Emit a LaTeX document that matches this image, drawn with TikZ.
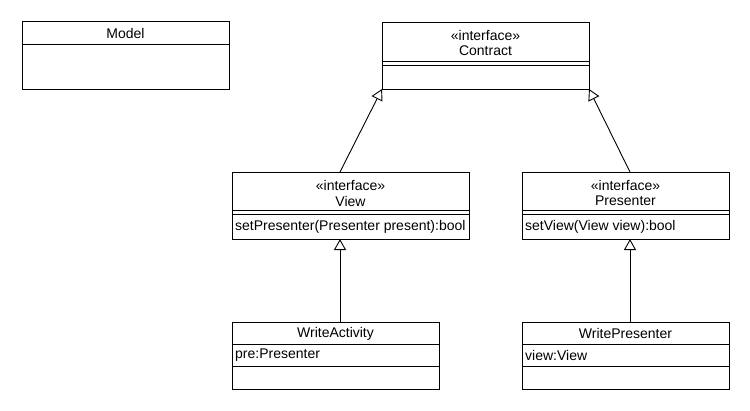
\documentclass[tikz,border=0pt]{standalone}
\usepackage{fontspec}
\setmainfont{Liberation Sans}
\usetikzlibrary{arrows.meta,calc}
\begin{document}
\begin{tikzpicture}[x=1pt,y=-1pt,
  umlbox/.style={draw,line width=1pt,rectangle,anchor=north west,inner sep=0pt,outer sep=0pt},
  lbl/.style={inner sep=0pt,font=\fontsize{14}{16}\selectfont},
  rowline/.style={line width=1pt},
  gen/.style={line width=0.9pt,-{Triangle[open,length=11pt,width=12pt,line width=0.9pt]}}]
\useasboundingbox (0,0) rectangle (750,410);
\fill[white] (0,0) rectangle (750,410);
% Model
\node[umlbox,minimum width=207pt,minimum height=68pt] (model) at (22,21) {};
\draw[rowline] ($(model.north west)+(0,23)$) -- ($(model.north east)+(0,23)$);
\node[lbl] (modelname) at ($(model.north)+(0,12.5)$) {Model};
% Contract
\node[umlbox,minimum width=207pt,minimum height=67pt] (contract) at (382,22) {};
\draw[rowline] ($(contract.north west)+(0,39)$) -- ($(contract.north east)+(0,39)$);
\draw[rowline] ($(contract.north west)+(0,43)$) -- ($(contract.north east)+(0,43)$);
\node[lbl] (contractst) at ($(contract.north)+(0,13)$) {«interface»};
\node[lbl] (contractname) at ($(contract.north)+(0,29)$) {Contract};
% View
\node[umlbox,minimum width=237pt,minimum height=67pt] (view) at (232,172) {};
\draw[rowline] ($(view.north west)+(0,38)$) -- ($(view.north east)+(0,38)$);
\draw[rowline] ($(view.north west)+(0,42)$) -- ($(view.north east)+(0,42)$);
\node[lbl] (viewst) at ($(view.north)+(0,13)$) {«interface»};
\node[lbl] (viewname) at ($(view.north)+(0,29)$) {View};
\node[lbl,anchor=west] (viewop) at ($(view.north west)+(3,55)$) {setPresenter(Presenter present):bool};
% Presenter
\node[umlbox,minimum width=207pt,minimum height=67pt] (presenter) at (522,172) {};
\draw[rowline] ($(presenter.north west)+(0,38)$) -- ($(presenter.north east)+(0,38)$);
\draw[rowline] ($(presenter.north west)+(0,42)$) -- ($(presenter.north east)+(0,42)$);
\node[lbl] (presst) at ($(presenter.north)+(0,13)$) {«interface»};
\node[lbl] (presname) at ($(presenter.north)+(0,29)$) {Presenter};
\node[lbl,anchor=west] (presop) at ($(presenter.north west)+(3,55)$) {setView(View view):bool};
% WriteActivity
\node[umlbox,minimum width=207pt,minimum height=67pt] (wact) at (232,322) {};
\draw[rowline] ($(wact.north west)+(0,22)$) -- ($(wact.north east)+(0,22)$);
\draw[rowline] ($(wact.north west)+(0,44)$) -- ($(wact.north east)+(0,44)$);
\node[lbl] (wactname) at ($(wact.north)+(0,11.5)$) {WriteActivity};
\node[lbl,anchor=west] (wactattr) at ($(wact.north west)+(3,33)$) {pre:Presenter};
% WritePresenter
\node[umlbox,minimum width=207pt,minimum height=67pt] (wpres) at (522,322) {};
\draw[rowline] ($(wpres.north west)+(0,22)$) -- ($(wpres.north east)+(0,22)$);
\draw[rowline] ($(wpres.north west)+(0,44)$) -- ($(wpres.north east)+(0,44)$);
\node[lbl] (wpresname) at ($(wpres.north)+(0,11.5)$) {WritePresenter};
\node[lbl,anchor=west] (wpresattr) at ($(wpres.north west)+(3,33)$) {view:View};
% Generalisations
\draw[gen] ($(view.north west)+(108,0)$) -- (contract.south west);
\draw[gen] ($(presenter.north west)+(108,0)$) -- (contract.south east);
\draw[gen] ($(wact.north west)+(108,0)$) -- ($(view.south west)+(108,0)$);
\draw[gen] ($(wpres.north west)+(108,0)$) -- ($(presenter.south west)+(108,0)$);
\end{tikzpicture}
\end{document}
